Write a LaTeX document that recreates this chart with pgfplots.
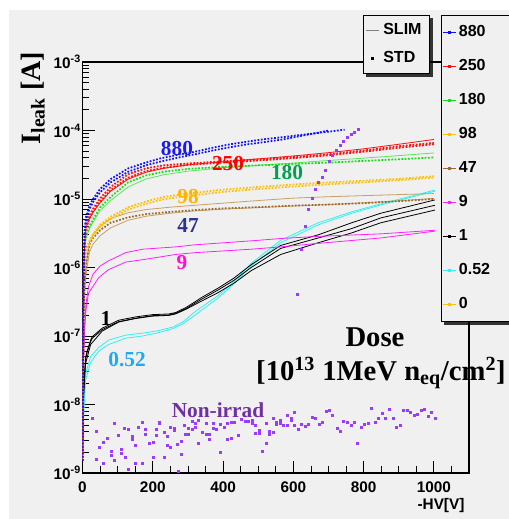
\documentclass[border=0pt]{standalone}
\usepackage{fontspec}
\setmainfont{Liberation Serif}
\setsansfont{Liberation Sans}
\usepackage{pgfplots}
\pgfplotsset{compat=1.18}
\usetikzlibrary{backgrounds}

\definecolor{bg}{HTML}{F0F0F0}
\definecolor{cblue}{HTML}{1010FF}
\definecolor{cred}{HTML}{FF1010}
\definecolor{cgreen}{HTML}{10E010}
\definecolor{cyel}{HTML}{FFC000}
\definecolor{cbrown}{HTML}{9C6A28}
\definecolor{ctan}{HTML}{C8A064}
\definecolor{cmag}{HTML}{FF20FF}
\definecolor{ccyan}{HTML}{30F0F0}
\definecolor{cpurp}{HTML}{9A3CFF}
\definecolor{lblue}{HTML}{1A1AF0}
\definecolor{lgreen}{HTML}{00A050}
\definecolor{lnavy}{HTML}{2E3192}
\definecolor{lmag}{HTML}{FF10C8}
\definecolor{lcyan}{HTML}{20AAEE}
\definecolor{lpurp}{HTML}{7030A0}
\definecolor{lyel}{HTML}{FFB400}

\pgfplotsset{
  std/.style={line width=1.3pt, dash pattern=on 1.3pt off 1.2pt, no markers},
  slim/.style={line width=0.6pt, no markers},
}
\newcommand\ann{\fontsize{16}{18}\selectfont\rmfamily\bfseries}
\newcommand\bigfont{\fontsize{21.5}{24}\selectfont\rmfamily\bfseries}
\newcommand\tfont{\fontsize{11.5}{12}\selectfont\sffamily\bfseries}
\newcommand\lfont{\fontsize{12}{13}\selectfont\sffamily\bfseries}

\begin{document}
\begin{tikzpicture}
\begin{scope}[on background layer]
\fill[white] (0,0) rectangle (381.75pt,389.25pt);
\fill[bg] (6.75pt,0) rectangle (381.75pt,381.75pt);
\end{scope}

\begin{axis}[
  at={(61.875pt,34.5pt)}, anchor=south west,
  scale only axis, width=289.9pt, height=308.25pt,
  xmin=0, xmax=1100, ymode=log, ymin=1e-9, ymax=1e-3,
  axis line style={line width=0.8pt},
  tick align=inside, tick pos=left,
  xtick={0,200,...,1000}, minor xtick={50,100,...,1100},
  xticklabels={0,200,400,600,800,1000},
  ytick={1e-9,1e-8,1e-7,1e-6,1e-5,1e-4,1e-3},
  yticklabels={10\textsuperscript{-9},10\textsuperscript{-8},10\textsuperscript{-7},10\textsuperscript{-6},10\textsuperscript{-5},10\textsuperscript{-4},10\textsuperscript{-3}},
  minor ytick={2e-9,3e-9,4e-9,5e-9,6e-9,7e-9,8e-9,9e-9,
               2e-8,3e-8,4e-8,5e-8,6e-8,7e-8,8e-8,9e-8,
               2e-7,3e-7,4e-7,5e-7,6e-7,7e-7,8e-7,9e-7,
               2e-6,3e-6,4e-6,5e-6,6e-6,7e-6,8e-6,9e-6,
               2e-5,3e-5,4e-5,5e-5,6e-5,7e-5,8e-5,9e-5,
               2e-4,3e-4,4e-4,5e-4,6e-4,7e-4,8e-4,9e-4},
  major tick length=9pt, minor tick length=5pt,
  tick style={black, line width=0.6pt},
  ticklabel style={font=\tfont},
  xticklabel style={inner sep=0pt, yshift=-6.5pt},
  yticklabel style={inner sep=0pt, xshift=-1pt},
  legend image code/.code={\draw[#1, mark repeat=2, mark phase=2] plot coordinates {(0pt,0pt) (4.875pt,0pt) (9.75pt,0pt)};},
  legend style={name=legdose, at={(0.928,1.114)}, anchor=north west,
    draw=black, line width=0.6pt, fill=bg,
    inner xsep=0.75pt, inner ysep=6.75pt, row sep=13.5pt,
    nodes={inner sep=0pt, text height=9pt, text depth=3pt},
    font=\lfont},
  legend cell align=left,
]
\addlegendimage{cblue, line width=0.5pt, mark=square*, mark size=0.8pt}
\addlegendentry{\makebox[40pt][l]{\hspace{2pt}880}}
\addlegendimage{cred, line width=0.5pt, mark=square*, mark size=0.8pt}
\addlegendentry{\makebox[40pt][l]{\hspace{2pt}250}}
\addlegendimage{cgreen, line width=0.5pt, mark=square*, mark size=0.8pt}
\addlegendentry{\makebox[40pt][l]{\hspace{2pt}180}}
\addlegendimage{cyel, line width=0.5pt, mark=square*, mark size=0.8pt}
\addlegendentry{\makebox[40pt][l]{\hspace{2pt}98}}
\addlegendimage{cbrown, line width=0.5pt, mark=square*, mark size=0.8pt}
\addlegendentry{\makebox[40pt][l]{\hspace{2pt}47}}
\addlegendimage{cmag, line width=0.5pt, mark=square*, mark size=0.8pt}
\addlegendentry{\makebox[40pt][l]{\hspace{2pt}9}}
\addlegendimage{black, line width=0.5pt, mark=square*, mark size=0.8pt}
\addlegendentry{\makebox[40pt][l]{\hspace{2pt}1}}
\addlegendimage{ccyan, line width=0.5pt, mark=square*, mark size=0.8pt}
\addlegendentry{\makebox[40pt][l]{\hspace{2pt}0.52}}
\addlegendimage{cyel, line width=0.5pt, mark=square*, mark size=0.8pt}
\addlegendentry{\makebox[40pt][l]{\hspace{2pt}0}}

% non-irradiated sensor, scattered points
\addplot[forget plot, only marks, mark=square*, mark size=0.75pt, cpurp] coordinates {
(29,6.3e-9)(40,4.1e-9)(40,1.6e-9)(49,2.4e-9)(59,2.8e-9)(59,1.4e-9)(70,3.2e-9)(82,2.1e-9)(82,1.8e-9)
(91,5.3e-9)(91,1.55e-9)(101,3.6e-9)(110,2.2e-9)(110,1.95e-9)(120,4.5e-9)(121,1.7e-9)(131,4.3e-9)
(131,1.14e-9)(141,3.4e-9)(141,3.1e-9)(150,2.5e-9)(151,1.4e-9)(160,4.7e-9)(170,5.5e-9)(170,1.4e-9)
(180,4.3e-9)(180,3.7e-9)(191,2.7e-9)(200,2.8e-9)(200,1.7e-9)(210,4.3e-9)(210,3.6e-9)(219,5.5e-9)
(219,5.3e-9)(232,4.0e-9)(232,1.7e-9)(241,3.4e-9)(241,2.5e-9)(251,4.6e-9)(251,2.4e-9)(261,4.5e-9)
(261,4.2e-9)(271,2.65e-9)(272,1.07e-9)(281,2.9e-9)(281,1.85e-9)(291,5.0e-9)(292,3.7e-9)(301,4.5e-9)
(301,3.7e-9)(311,5.7e-9)(311,4.3e-9)(320,5.3e-9)(320,4.6e-9)(330,5.9e-9)(330,2.7e-9)(341,3.9e-9)
(351,5.4e-9)(351,3.7e-9)(360,3.7e-9)(360,3.1e-9)(371,5.4e-9)(371,4.5e-9)(381,4.3e-9)(392,2.0e-9)
(392,5.2e-9)(403,4.7e-9)(412,5.4e-9)(412,3.1e-9)(422,5.5e-9)(422,3.2e-9)(433,5.5e-9)(443,3.6e-9)
(452,6.0e-9)(462,5.7e-9)(472,5.7e-9)(482,5.9e-9)(482,5.3e-9)(491,4.9e-9)(491,3.8e-9)(502,4.2e-9)
(502,3.8e-9)(511,2.1e-9)(522,2.7e-9)(522,5.4e-9)(531,4.1e-9)(531,3.7e-9)(542,3.9e-9)(542,6.3e-9)
(552,5.5e-9)(552,5.2e-9)(562,5.9e-9)(562,5.3e-9)(572,5.0e-9)(582,6.9e-9)(582,5.0e-9)(593,6.2e-9)
(593,5.9e-9)(602,7.7e-9)(602,5.0e-9)(613,4.4e-9)(623,5.2e-9)(633,4.8e-9)(642,5.2e-9)(653,6.6e-9)
(662,6.3e-9)(673,5.2e-9)(682,5.5e-9)(693,8.1e-9)(702,8.3e-9)(712,7.0e-9)(724,4.5e-9)(733,4.1e-9)
(743,5.7e-9)(754,5.5e-9)(764,5.0e-9)(773,5.5e-9)(783,2.7e-9)(793,4.6e-9)(803,5.2e-9)(813,5.3e-9)
(823,8.8e-9)(833,5.5e-9)(843,6.3e-9)(852,7.5e-9)(863,6.3e-9)(873,8.5e-9)(884,6.2e-9)(894,4.6e-9)
(903,5.0e-9)(914,8.3e-9)(923,8.3e-9)(934,7.7e-9)(943,6.9e-9)(954,7.2e-9)(963,8.3e-9)(974,8.5e-9)
(983,6.8e-9)(993,7.7e-9)(1003,6.3e-9)
(611,4.1e-7)(623,1.86e-6)(633,4.0e-6)(642,7.1e-6)(653,1.04e-5)(662,1.4e-5)(672,1.75e-5)(682,2.07e-5)
(692,2.6e-5)(702,3.5e-5)(712,4.35e-5)(723,5.2e-5)(733,6.1e-5)(743,7.0e-5)(753,7.9e-5)(764,8.8e-5)
(773,9.4e-5)(784,1.03e-4)
};

% 0.52
\addplot[forget plot, slim, ccyan] coordinates {(0,1.5e-9)(3,8e-9)(6,1.7e-8)(9,2.8e-8)(23,5e-8)(46,6.8e-8)(74,8.7e-8)(123,1.03e-7)(171,1.1e-7)(217,1.2e-7)(257,1.35e-7)(285,1.6e-7)(322,2.3e-7)(386,3.9e-7)(431,6.2e-7)(480,1.15e-6)(564,2.5e-6)(671,4.5e-6)(766,6.5e-6)(849,8.5e-6)(1003,1.35e-5)};
\addplot[forget plot, slim, ccyan] coordinates {(0,1.5e-9)(3,6e-9)(6,1.3e-8)(9,2.3e-8)(23,4.1e-8)(46,6e-8)(74,7.5e-8)(123,9.3e-8)(171,1.0e-7)(217,1.12e-7)(257,1.28e-7)(285,1.5e-7)(322,2.05e-7)(386,3.6e-7)(431,5.8e-7)(480,1.05e-6)(564,2.3e-6)(671,4.2e-6)(766,6.2e-6)(849,8.2e-6)(1003,1.3e-5)};
% 1
\addplot[forget plot, slim, black] coordinates {(0,1.5e-9)(3,1.5e-8)(6,3e-8)(9,4.9e-8)(13,6e-8)(23,8.7e-8)(28,9.8e-8)(56,1.3e-7)(103,1.7e-7)(151,1.9e-7)(199,2.05e-7)(246,2.1e-7)(265,2.2e-7)(294,2.6e-7)(322,3.2e-7)(337,3.6e-7)(386,5e-7)(431,7e-7)(480,1.1e-6)(564,2.1e-6)(671,3.0e-6)(766,4.5e-6)(849,6.2e-6)(1003,9.7e-6)};
\addplot[forget plot, slim, black] coordinates {(0,1.5e-9)(3,1.4e-8)(6,2.8e-8)(9,4.6e-8)(13,5.7e-8)(23,8.2e-8)(28,9.3e-8)(56,1.24e-7)(103,1.62e-7)(151,1.82e-7)(199,1.98e-7)(246,2.03e-7)(265,2.15e-7)(294,2.5e-7)(337,3.4e-7)(386,4.7e-7)(431,6.5e-7)(480,1.0e-6)(564,1.9e-6)(671,2.7e-6)(766,3.7e-6)(849,5.3e-6)(1003,8.1e-6)};
\addplot[forget plot, slim, black] coordinates {(0,1.5e-9)(3,1.2e-8)(6,2.5e-8)(9,4e-8)(23,7.5e-8)(56,1.18e-7)(103,1.6e-7)(151,1.8e-7)(199,1.95e-7)(246,2.0e-7)(265,2.1e-7)(294,2.45e-7)(337,3.2e-7)(386,4.3e-7)(431,5.9e-7)(480,9e-7)(564,1.55e-6)(671,2.3e-6)(766,3.2e-6)(849,4.5e-6)(1003,6.9e-6)};
% 9
\addplot[forget plot, slim, cmag] coordinates {(0,1.5e-9)(3,5e-8)(6,1.5e-7)(10,3e-7)(17,5.2e-7)(30,8e-7)(50,1.05e-6)(74,1.25e-6)(123,1.65e-6)(171,1.85e-6)(265,2.0e-6)(322,2.15e-6)(480,2.45e-6)(564,2.65e-6)(671,2.85e-6)(849,3.1e-6)(1003,3.5e-6)};
\addplot[forget plot, slim, cmag] coordinates {(0,1.5e-9)(3,4e-8)(6,1.2e-7)(10,2.4e-7)(17,4.2e-7)(46,7.1e-7)(74,9.3e-7)(123,1.2e-6)(171,1.3e-6)(265,1.55e-6)(322,1.65e-6)(480,1.85e-6)(564,2.0e-6)(671,2.25e-6)(849,2.7e-6)(1003,3.4e-6)};
% 47
\addplot[forget plot, slim, ctan] coordinates {(0,1.5e-9)(3,2e-7)(6,6e-7)(10,1.1e-6)(20,2.3e-6)(30,3e-6)(50,4e-6)(80,5.2e-6)(130,6.3e-6)(180,7e-6)(250,7.6e-6)(320,8.1e-6)(400,8.7e-6)(500,9.5e-6)(600,1.03e-5)(700,1.08e-5)(800,1.12e-5)(900,1.16e-5)(1000,1.2e-5)};
\addplot[forget plot, slim, ctan] coordinates {(0,1.5e-9)(3,1.5e-7)(6,4e-7)(10,8e-7)(20,1.7e-6)(30,2.2e-6)(50,2.9e-6)(80,3.8e-6)(130,4.9e-6)(180,5.6e-6)(250,6.2e-6)(320,6.7e-6)(400,7.1e-6)(500,7.5e-6)(600,7.9e-6)(700,8.3e-6)(800,8.8e-6)(900,9.4e-6)(1000,1.02e-5)};
\addplot[forget plot, std, cbrown] coordinates {(0,1.5e-9)(3,2e-7)(6,6e-7)(10,1.1e-6)(20,2.2e-6)(30,2.7e-6)(50,3.5e-6)(80,4.5e-6)(130,5.4e-6)(180,6e-6)(250,6.5e-6)(320,6.9e-6)(400,7.3e-6)(500,7.6e-6)(600,8e-6)(700,8.3e-6)(800,8.7e-6)(900,9.3e-6)(1000,1e-5)};
% 98
\addplot[forget plot, std, cyel] coordinates {(0,1.5e-9)(3,4e-7)(6,1.2e-6)(10,1.8e-6)(20,2.5e-6)(30,3.1e-6)(50,4.2e-6)(80,5.5e-6)(130,7.6e-6)(180,9.2e-6)(230,1.07e-5)(300,1.2e-5)(400,1.37e-5)(500,1.5e-5)(600,1.63e-5)(700,1.75e-5)(800,1.85e-5)(900,1.97e-5)(1000,2.15e-5)};
\addplot[forget plot, std, cyel] coordinates {(0,1.5e-9)(3,3.6e-7)(6,1.1e-6)(10,1.65e-6)(20,2.3e-6)(30,2.85e-6)(50,3.9e-6)(80,5.1e-6)(130,7e-6)(180,8.5e-6)(230,9.9e-6)(300,1.11e-5)(400,1.27e-5)(500,1.4e-5)(600,1.52e-5)(700,1.64e-5)(800,1.75e-5)(900,1.88e-5)(1000,2.05e-5)};
% 180
\addplot[forget plot, slim, cgreen!70!white] coordinates {(0,1.5e-9)(3,5e-7)(6,1.8e-6)(10,2.7e-6)(20,3.7e-6)(30,4.6e-6)(50,6.8e-6)(80,9.5e-6)(130,1.5e-5)(180,1.95e-5)(230,2.25e-5)(300,2.55e-5)(400,2.85e-5)(500,3.1e-5)(600,3.35e-5)(700,3.65e-5)(800,3.95e-5)(900,4.3e-5)(1000,4.7e-5)};
\addplot[forget plot, std, cgreen] coordinates {(0,1.5e-9)(3,6e-7)(6,2e-6)(10,3e-6)(20,4e-6)(30,5e-6)(50,7.5e-6)(80,1.07e-5)(130,1.75e-5)(180,2.2e-5)(230,2.5e-5)(300,2.75e-5)(400,2.95e-5)(500,3.1e-5)(600,3.25e-5)(700,3.4e-5)(800,3.6e-5)(900,3.8e-5)(1000,4.05e-5)};
% 250
\addplot[forget plot, slim, cred] coordinates {(0,1.5e-9)(3,7e-7)(6,2.3e-6)(10,3.8e-6)(20,5.2e-6)(30,6.4e-6)(50,8.8e-6)(80,1.3e-5)(130,1.95e-5)(180,2.45e-5)(230,2.8e-5)(300,3.15e-5)(400,3.5e-5)(500,3.85e-5)(600,4.25e-5)(700,4.75e-5)(800,5.4e-5)(900,6.3e-5)(1000,7.4e-5)};
\addplot[forget plot, std, cred] coordinates {(0,1.5e-9)(3,8e-7)(6,2.5e-6)(10,4.2e-6)(20,5.8e-6)(30,7.2e-6)(50,1.02e-5)(80,1.5e-5)(130,2.3e-5)(180,2.8e-5)(230,3.1e-5)(300,3.3e-5)(400,3.55e-5)(500,3.8e-5)(600,4.1e-5)(700,4.5e-5)(800,5.1e-5)(900,5.9e-5)(1000,6.6e-5)};
\addplot[forget plot, std, cred] coordinates {(0,1.5e-9)(3,6e-7)(6,2.2e-6)(10,3.7e-6)(20,5.2e-6)(30,6.5e-6)(50,9.2e-6)(80,1.35e-5)(130,2.05e-5)(180,2.55e-5)(230,2.85e-5)(300,3.15e-5)(400,3.4e-5)(500,3.65e-5)(600,3.95e-5)(700,4.35e-5)(800,4.9e-5)(900,5.6e-5)(1000,6.3e-5)};
% 880
\addplot[forget plot, std, cblue] coordinates {(0,1.5e-9)(3,1e-6)(6,3.5e-6)(10,5.5e-6)(20,8e-6)(30,1e-5)(50,1.4e-5)(80,1.95e-5)(130,2.8e-5)(180,3.4e-5)(220,3.9e-5)(270,4.4e-5)(320,4.9e-5)(370,5.6e-5)(420,6.3e-5)(470,6.9e-5)(520,7.5e-5)(570,8e-5)(620,8.6e-5)(670,9.2e-5)(700,9.6e-5)(746,1.03e-4)};
\addplot[forget plot, std, cblue] coordinates {(0,1.5e-9)(3,8e-7)(6,3e-6)(10,5e-6)(20,7.2e-6)(30,9e-6)(50,1.25e-5)(80,1.75e-5)(130,2.5e-5)(180,3.1e-5)(220,3.5e-5)(270,4e-5)(320,4.5e-5)(370,5.1e-5)(420,5.7e-5)(470,6.3e-5)(520,6.8e-5)(570,7.4e-5)(620,8.3e-5)(670,9.3e-5)(700,1e-4)};
\end{axis}

\begin{axis}[
  at={(61.875pt,34.5pt)}, anchor=south west,
  scale only axis, width=289.9pt, height=308.25pt,
  hide axis, xmin=0, xmax=1, ymin=0, ymax=1,
  legend style={name=legtype, at={(0.726,1.114)}, anchor=north west,
    draw=black, line width=0.6pt, fill=bg,
    inner xsep=1.5pt, inner ysep=5.25pt, row sep=9pt,
    nodes={inner sep=0pt, text height=9pt, text depth=3pt},
    font=\lfont},
  legend cell align=left,
]
\addlegendimage{legend image code/.code={\draw[gray, line width=0.6pt] (0pt,0pt) -- (9.75pt,0pt);}}
\addlegendentry{\makebox[36pt][l]{\hspace{3pt}SLIM}}
\addlegendimage{legend image code/.code={\fill[black] (4.1pt,-0.75pt) rectangle (5.6pt,0.75pt);}}
\addlegendentry{\makebox[36pt][l]{\hspace{3pt}STD}}
\end{axis}

% box shadows of the two legends
\begin{scope}[on background layer]
\fill[black!80] ([shift={(2.2pt,-2.2pt)}]legdose.south west) rectangle ([shift={(2.2pt,-2.2pt)}]legdose.north east);
\fill[black!80] ([shift={(2.2pt,-2.2pt)}]legtype.south west) rectangle ([shift={(2.2pt,-2.2pt)}]legtype.north east);
\end{scope}

\begin{scope}[x=0.75pt, y=0.75pt]
\node[rotate=90, font=\fontsize{21}{24}\selectfont\rmfamily\bfseries] at (33,421) {I\textsubscript{leak} [A]};
\node[font=\tfont] at (441,13) {-HV[V]};
\node[font=\bigfont] at (375,182) {Dose};
\node[font=\bigfont] at (381,146) {[10\textsuperscript{13} 1MeV n\textsubscript{eq}/cm\textsuperscript{2}]};
\node[font=\ann, text=lblue] at (177,370) {880};
\node[font=\ann, text=red] at (228,355) {250};
\node[font=\ann, text=lgreen] at (287,346) {180};
\node[font=\ann, text=lyel] at (188,322) {98};
\node[font=\ann, text=lnavy] at (188,294) {47};
\node[font=\ann, text=lmag] at (182,256) {9};
\node[font=\ann, text=black] at (106,201) {1};
\node[font=\ann, text=lcyan] at (127,159) {0.52};
\node[font=\ann, text=lpurp] at (218,109) {Non-irrad};
\end{scope}
\pgfresetboundingbox
\useasboundingbox (0,0) rectangle (381.75pt,389.25pt);
\end{tikzpicture}
\end{document}
